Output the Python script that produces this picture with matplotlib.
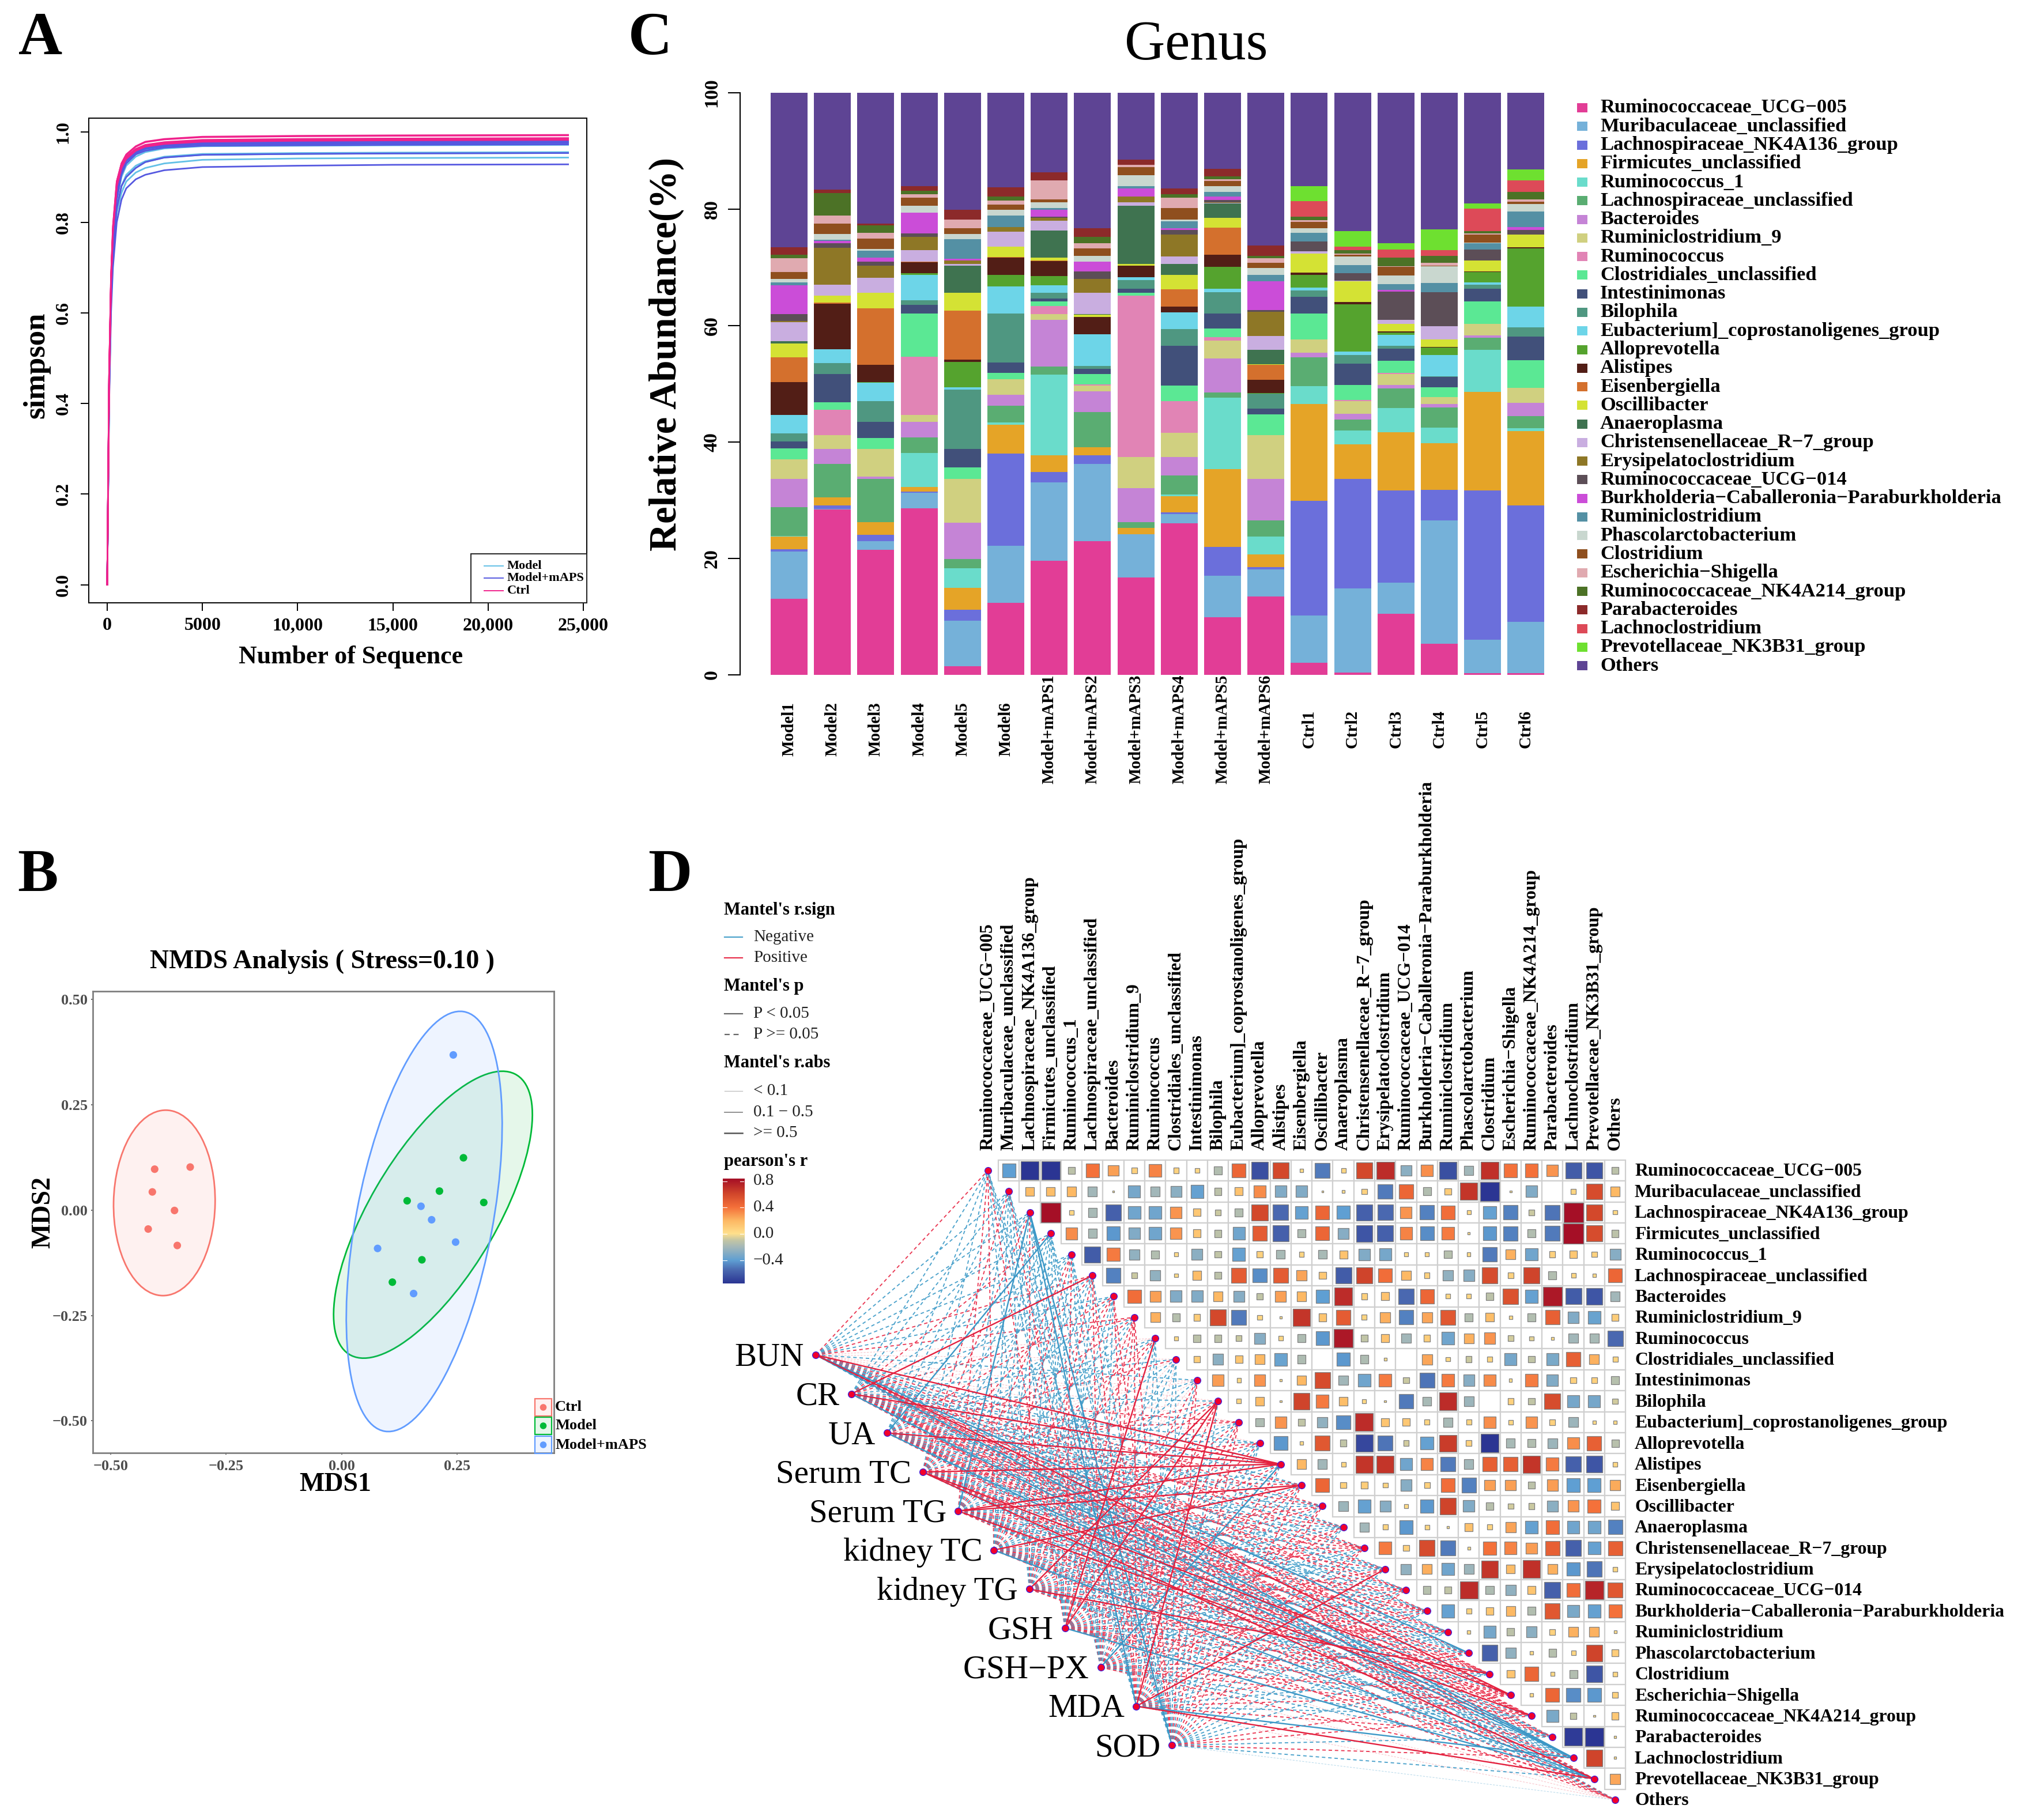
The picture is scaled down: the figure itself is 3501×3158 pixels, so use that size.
import numpy as np
import matplotlib
matplotlib.use('Agg')
import matplotlib.pyplot as plt
from matplotlib.colors import LinearSegmentedColormap, Normalize
from matplotlib.patches import Ellipse, Rectangle

plt.rcParams['font.family'] = ['Liberation Serif', 'DejaVu Serif']

W, H = 3501, 3158

#-----------------------------------------------------------------------------------------
# A: rarefaction curves

depths = [0, 100, 200, 300, 500, 750, 1000, 1500, 2000, 3000, 5000, 10000, 15000, 24200]
model_curves = [
    [0, .44, .66, .76, .86, .91, .935, .955, .965, .972, .976, .977, .978, .979],
    [0, .44, .65, .75, .85, .905, .93, .95, .96, .968, .972, .973, .974, .975],
    [0, .43, .64, .75, .85, .90, .925, .945, .955, .963, .968, .969, .970, .971],
    [0, .42, .63, .73, .83, .88, .905, .925, .935, .945, .951, .953, .954, .955],
    [0, .42, .63, .73, .83, .88, .90, .92, .933, .943, .949, .951, .952, .953],
    [0, .41, .62, .72, .82, .865, .89, .91, .92, .93, .938, .941, .942, .943],
]
maps_curves = [
    [0, .45, .66, .77, .87, .915, .94, .958, .967, .973, .977, .978, .979, .980],
    [0, .44, .66, .76, .86, .91, .937, .955, .964, .970, .974, .975, .976, .977],
    [0, .44, .65, .76, .86, .91, .935, .953, .962, .968, .972, .973, .974, .975],
    [0, .44, .65, .75, .85, .905, .93, .95, .958, .965, .969, .970, .971, .972],
    [0, .42, .63, .73, .83, .88, .90, .92, .933, .943, .949, .951, .952, .953],
    [0, .40, .60, .70, .80, .85, .875, .895, .905, .915, .922, .925, .927, .928],
]
ctrl_curves = [
    [0, .46, .68, .79, .89, .93, .95, .968, .978, .984, .989, .991, .992, .993],
    [0, .46, .68, .79, .89, .93, .949, .967, .977, .983, .988, .990, .991, .992],
    [0, .46, .67, .78, .88, .925, .945, .962, .971, .977, .982, .984, .985, .986],
    [0, .46, .67, .78, .88, .924, .944, .961, .970, .976, .981, .983, .984, .985],
    [0, .45, .67, .78, .88, .922, .942, .959, .968, .974, .979, .981, .982, .983],
    [0, .45, .67, .78, .88, .92, .94, .958, .967, .973, .978, .980, .981, .982],
]

#-----------------------------------------------------------------------------------------
# B: NMDS points

ctrl_x = [-.405, -.328, -.410, -.362, -.419, -.356]
ctrl_y = [.097, .102, .043, -.001, -.045, -.084]
model_x = [.264, .212, .142, .308, .174, .110]
model_y = [.124, .045, .022, .018, -.118, -.171]
maps_x = [.242, .172, .195, .247, .078, .156]
maps_y = [.368, .009, -.023, -.076, -.091, -.198]

#-----------------------------------------------------------------------------------------
# C: stacked bars, each list holds the cumulative top of the first 30 taxa

taxa = ['Ruminococcaceae_UCG\u2212005', 'Muribaculaceae_unclassified', 'Lachnospiraceae_NK4A136_group',
        'Firmicutes_unclassified', 'Ruminococcus_1', 'Lachnospiraceae_unclassified', 'Bacteroides',
        'Ruminiclostridium_9', 'Ruminococcus', 'Clostridiales_unclassified', 'Intestinimonas', 'Bilophila',
        'Eubacterium]_coprostanoligenes_group', 'Alloprevotella', 'Alistipes', 'Eisenbergiella',
        'Oscillibacter', 'Anaeroplasma', 'Christensenellaceae_R\u22127_group', 'Erysipelatoclostridium',
        'Ruminococcaceae_UCG\u2212014', 'Burkholderia\u2212Caballeronia\u2212Paraburkholderia',
        'Ruminiclostridium', 'Phascolarctobacterium', 'Clostridium', 'Escherichia\u2212Shigella',
        'Ruminococcaceae_NK4A214_group', 'Parabacteroides', 'Lachnoclostridium',
        'Prevotellaceae_NK3B31_group', 'Others']
taxa_colors = ['#e23d96', '#75b1d9', '#6b6fdb', '#e5a427', '#6adccb', '#5aad72', '#c584d6', '#d0d080',
               '#e184b5', '#5be894', '#41507a', '#4f9781', '#6dd5e8', '#55a32e', '#521e16', '#d4702d',
               '#d4e234', '#3f7350', '#c9aee0', '#8e7726', '#5c4e57', '#cb4dd8', '#5490a4', '#c9d7cf',
               '#8f4f1e', '#e0aab0', '#4c7226', '#8c2a2a', '#dd4a58', '#6ee030', '#5e4494']
samples = ['Model1', 'Model2', 'Model3', 'Model4', 'Model5', 'Model6',
           'Model+mAPS1', 'Model+mAPS2', 'Model+mAPS3', 'Model+mAPS4', 'Model+mAPS5', 'Model+mAPS6',
           'Ctrl1', 'Ctrl2', 'Ctrl3', 'Ctrl4', 'Ctrl5', 'Ctrl6']

tops_model1 = [13.1, 21.2, 21.6, 23.8, 23.9, 28.8, 33.7, 37.0, 37.0, 38.9, 40.1, 41.5, 44.7, 44.7, 50.3,
               54.6, 56.9, 57.3, 60.6, 60.8, 62.0, 66.9, 67.4, 68.0, 69.2, 71.6, 72.2, 73.5, 73.5, 73.5]
tops_model2 = [28.4, 28.5, 29.1, 30.5, 30.5, 36.2, 38.8, 41.2, 45.5, 46.8, 51.7, 53.6, 55.9, 55.9, 63.8,
               64.0, 65.1, 65.1, 67.0, 73.4, 74.2, 74.6, 74.8, 75.7, 77.5, 78.9, 82.8, 83.4, 83.4, 83.4]
tops_model3 = [21.5, 23.0, 24.1, 26.2, 26.2, 33.7, 34.1, 38.8, 38.8, 40.7, 43.5, 47.0, 50.2, 50.3, 53.3,
               63.0, 65.6, 65.6, 68.2, 70.3, 71.0, 71.7, 72.9, 73.2, 75.0, 75.9, 77.2, 77.5, 77.5, 77.5]
tops_model4 = [28.6, 31.3, 31.5, 32.3, 38.1, 40.8, 43.5, 44.7, 54.7, 62.1, 63.6, 64.4, 68.7, 69.0, 70.9,
               71.0, 71.0, 71.0, 73.0, 75.2, 75.8, 79.4, 79.4, 80.6, 82.0, 82.6, 83.2, 84.0, 84.0, 84.0]
tops_model5 = [1.5, 9.3, 11.2, 15.0, 18.3, 19.9, 26.1, 33.7, 33.7, 35.6, 38.8, 49.0, 49.4, 53.8, 54.2,
               62.6, 65.6, 70.3, 70.6, 71.2, 71.2, 71.5, 74.9, 75.7, 76.7, 78.2, 78.2, 79.9, 79.9, 79.9]
tops_model6 = [12.4, 22.2, 38.0, 43.0, 43.4, 46.2, 48.1, 50.8, 50.8, 51.9, 53.7, 62.1, 66.7, 68.7, 71.7,
               71.8, 73.6, 73.6, 76.1, 76.9, 76.9, 76.9, 78.9, 79.9, 80.8, 81.5, 82.2, 83.8, 83.8, 83.8]
tops_maps1 = [19.6, 33.1, 34.9, 37.7, 51.6, 53.0, 61.0, 62.0, 63.4, 64.2, 64.7, 65.6, 66.9, 68.5, 71.1,
              71.2, 71.7, 76.3, 78.0, 78.5, 78.7, 79.9, 80.2, 81.2, 81.7, 85.0, 85.0, 86.3, 86.3, 86.3]
tops_maps2 = [23.0, 36.2, 37.7, 39.1, 39.1, 45.1, 48.7, 49.7, 49.9, 51.7, 52.6, 53.1, 58.5, 58.5, 61.5,
              61.5, 61.9, 62.0, 65.6, 68.0, 69.3, 71.0, 71.0, 72.0, 73.3, 74.2, 75.2, 76.7, 76.7, 76.7]
tops_maps3 = [16.7, 24.2, 24.2, 25.2, 25.2, 26.2, 32.1, 37.4, 65.1, 65.6, 66.3, 67.8, 68.3, 68.3, 70.3,
              70.3, 70.6, 80.6, 81.2, 82.2, 82.2, 83.6, 84.0, 85.8, 87.2, 87.6, 87.6, 88.5, 88.5, 88.5]
tops_maps4 = [26.0, 27.6, 27.9, 30.7, 31.0, 34.3, 37.4, 41.6, 47.0, 49.7, 56.5, 59.4, 62.3, 62.3, 63.3,
              66.2, 68.7, 70.6, 71.9, 75.6, 76.4, 76.7, 77.9, 78.2, 80.2, 82.0, 82.6, 83.6, 83.6, 83.6]
tops_maps5 = [9.9, 17.0, 22.0, 35.3, 47.6, 48.5, 54.4, 57.4, 58.0, 59.5, 62.1, 65.7, 66.3, 70.1, 72.2,
              76.8, 78.5, 81.0, 81.1, 81.2, 81.6, 82.2, 83.0, 84.0, 84.9, 85.1, 85.6, 86.9, 86.9, 86.9]
tops_maps6 = [13.5, 18.1, 18.5, 20.7, 23.8, 26.5, 33.7, 41.2, 41.2, 44.8, 45.7, 48.3, 48.3, 48.4, 50.7,
              53.3, 53.4, 55.8, 58.2, 62.4, 62.7, 67.6, 68.7, 69.9, 70.8, 71.6, 72.0, 73.8, 73.8, 73.8]
tops_ctrl1 = [2.1, 10.2, 29.9, 46.5, 49.6, 54.6, 55.3, 57.6, 57.6, 62.1, 65.0, 66.0, 66.5, 68.7, 69.1,
              69.1, 72.4, 72.4, 72.8, 72.8, 74.5, 74.5, 75.9, 76.7, 77.8, 78.1, 78.7, 78.7, 81.4, 84.0]
tops_ctrl2 = [0.4, 14.9, 33.7, 39.6, 42.0, 43.9, 44.9, 47.0, 47.2, 49.8, 53.5, 55.0, 55.5, 63.7, 64.1,
              64.1, 67.6, 67.6, 67.7, 67.7, 69.0, 69.0, 70.4, 71.9, 72.2, 72.4, 73.0, 73.0, 73.6, 76.2]
tops_ctrl3 = [10.5, 15.8, 31.7, 41.7, 45.8, 49.2, 49.8, 51.7, 51.9, 54.0, 56.0, 56.5, 58.4, 58.8, 59.0,
              59.0, 60.3, 60.3, 61.0, 61.0, 65.8, 66.1, 67.1, 68.6, 70.1, 70.2, 71.7, 71.7, 73.1, 74.2]
tops_ctrl4 = [5.3, 26.5, 31.8, 39.8, 42.5, 45.9, 46.5, 47.7, 47.7, 49.4, 51.2, 51.3, 55.0, 56.2, 56.3,
              56.3, 57.6, 57.6, 59.9, 59.9, 65.7, 65.7, 67.3, 70.2, 70.3, 70.8, 72.0, 72.0, 73.0, 76.5]
tops_ctrl5 = [0.3, 6.0, 31.7, 48.6, 55.8, 57.9, 58.3, 60.3, 60.3, 64.2, 66.3, 67.0, 67.4, 69.2, 69.3,
              69.3, 71.2, 71.2, 71.2, 71.2, 73.1, 73.1, 74.2, 74.3, 75.6, 75.8, 76.2, 76.2, 80.1, 81.0]
tops_ctrl6 = [0.3, 9.1, 29.1, 41.9, 42.4, 44.5, 46.7, 49.3, 49.3, 54.1, 58.1, 59.7, 63.3, 73.3, 73.5,
              73.5, 75.6, 75.6, 75.6, 75.6, 76.4, 76.9, 79.6, 80.9, 81.3, 81.7, 83.0, 83.0, 85.0, 86.8]
sample_tops = [tops_model1, tops_model2, tops_model3, tops_model4, tops_model5, tops_model6,
               tops_maps1, tops_maps2, tops_maps3, tops_maps4, tops_maps5, tops_maps6,
               tops_ctrl1, tops_ctrl2, tops_ctrl3, tops_ctrl4, tops_ctrl5, tops_ctrl6]

#-----------------------------------------------------------------------------------------
# D: pearson's r, upper triangle, row r holds columns r+1 .. 30

pearson_rows = [
    [-.4, -.75, -.75, -.12, .4, .27, .08, .35, .07, .05, -.15, .45, -.65, .6, .03, -.5, .05, .6, .72, -.27, .32, -.65, -.2, .7, .4, .4, .3, -.6, -.62, -.12],
    [.18, .17, .2, -.2, -.01, -.33, -.2, -.27, -.38, -.12, .15, .33, -.3, -.3, .01, .02, .07, -.5, .45, -.15, .1, .68, -.85, -.01, -.3, 0, .06, .58, .2],
    [.88, .05, -.18, -.58, -.35, -.35, .3, .12, -.08, -.15, .6, -.55, -.38, .45, -.4, -.58, -.55, .3, -.48, .42, .04, -.38, -.48, -.08, -.52, .88, .6, .04],
    [.33, -.18, -.42, -.3, -.35, .3, .14, -.12, -.35, .5, -.58, -.16, .45, -.28, -.62, -.58, .35, -.45, .38, .01, -.42, -.48, -.15, -.5, .92, .58, -.12],
    [-.6, .38, -.25, -.15, .03, -.27, -.1, -.38, .08, -.18, .06, -.18, .15, -.3, -.33, .03, .04, -.14, .03, -.5, .22, -.35, .08, .12, .07, -.28],
    [-.48, -.08, -.25, .03, .18, -.12, .5, -.45, .5, .26, .12, -.6, .62, .42, .2, .07, -.25, -.28, .58, .07, .62, -.15, .05, .03, .45],
    [.42, .27, -.3, -.3, .2, -.28, -.1, .27, .2, -.4, .72, .08, .15, -.55, .45, .05, .05, -.12, .55, -.38, .8, -.6, -.62, -.2],
    [.22, -.14, .1, .6, -.5, .05, .01, .68, .14, .5, .06, .23, -.48, .25, .52, -.15, .17, .03, -.15, .48, -.3, -.37, .1],
    [.04, -.12, -.12, -.08, -.28, .05, -.16, -.42, .8, -.1, .15, -.2, .1, -.35, .22, .3, -.07, -.04, .02, -.2, -.18, -.55],
    [.1, -.27, .13, .2, -.37, -.16, 0, -.42, -.16, .02, 0, .25, .04, -.08, .06, -.33, -.1, -.32, .48, .22, .06],
    [.28, .04, .3, .01, .2, .58, -.2, -.35, .38, -.08, -.52, .38, -.28, .33, .02, .37, -.3, .08, .08, -.14],
    [.05, .18, .01, .62, .38, .17, .04, .01, -.5, -.18, .72, -.22, 0, .08, -.1, .58, -.33, -.33, -.07],
    [-.16, .3, -.1, -.25, -.45, .72, .14, .12, .06, -.18, .06, .32, .05, .3, .08, -.22, .03, .03],
    [-.42, .03, .52, -.1, -.68, -.52, -.07, -.38, .65, .07, -.75, -.18, -.15, -.22, .32, .48, -.13],
    [.2, -.2, .05, .68, .68, -.35, .35, -.5, -.2, .48, .48, .68, .38, -.58, -.62, .05],
    [.45, .08, .1, .06, -.28, .08, .42, -.48, .27, .27, -.12, .28, -.4, -.4, .24],
    [-.22, -.38, -.28, .03, -.42, .62, -.3, -.13, -.07, -.08, -.27, .3, .4, .15],
    [-.2, .06, -.42, .05, -.01, .16, .06, .26, -.38, .42, -.35, -.35, -.48],
    [.38, .08, .58, -.5, .02, .4, .35, .28, .48, -.58, -.38, .48],
    [-.25, .23, -.35, -.22, .68, .18, .7, .22, -.42, -.52, .05],
    [-.14, -.1, .72, -.16, -.25, .14, -.58, .42, .75, .52],
    [-.38, .06, .13, .2, -.15, .52, -.32, -.38, .4],
    [.03, -.33, -.12, -.27, .07, .22, .22, .02],
    [-.58, -.25, .03, -.14, .05, .62, .1],
    [.14, .45, .04, -.15, -.62, .05],
    [.03, .45, -.45, -.42, .07],
    [-.32, -.1, .01, .12],
    [-.72, -.8, .01],
    [.62, .01],
    [.25],
]

env_names = ['BUN', 'CR', 'UA', 'Serum TC', 'Serum TG', 'kidney TC', 'kidney TG',
             'GSH', 'GSH\u2212PX', 'MDA', 'SOD']
# one letter per taxon: R/B solid pos/neg, r/b dashed pos/neg, f/g faint pos/neg
link_codes = [
    'rbbbb rbrff bfffR brbrb brbBr RrrBr b',
    'bbbrb Rbrfb fbrbR rbrbr rbbrr rrbBr r',
    'bbbBb brbbr ffrbR brbrb rbrbr rrbBb r',
    'brrbb rbrbf brfrR rbrrb brrbr RrrbR b',
    'rbBbr brbrb fbbrR Rbbrr brbbr bRrbb r',
    'rbbbr brbrf brbbb Rrbrb rrbrb rbrbB r',
    'bbrbb rbrbb fRrbr brbrb rbrbR rrbbb r',
    'rbbbr bbrRb rRbrb rbrbr brrbr rrbrB f',
    'brbbb rbrbf brrbB rbrbr rbbrb rrbbr f',
    'bbBbb rrrbb rRrbr brbrR brbrb rbrBR f',
    'bbBbb brrbb rbrbb rrbrb rbbbb rrbrb g',
]

#-----------------------------------------------------------------------------------------

def axes_px(fig, left, top, right, bottom, **kw):
    return fig.add_axes([left / W, 1 - bottom / H, (right - left) / W, (bottom - top) / H], **kw)


fig = plt.figure(figsize=(W / 100, H / 100), dpi=100, facecolor='white')

# overlay for free text and legend keys, in pixels of the picture
ov = axes_px(fig, 0, 0, W, H, zorder=10)
ov.set_xlim(0, W)
ov.set_ylim(H, 0)
ov.axis('off')
ov.patch.set_alpha(0)


def label(x, y, s, size, weight='bold', ha='center', va='center', rot=0, color='black'):
    ov.text(x, y, s, fontsize=size, fontweight=weight, ha=ha, va=va, rotation=rot, color=color,
            rotation_mode='anchor' if rot else 'default')


for x, y, s in [(32, 94, 'A'), (30, 1546, 'B'), (1090, 94, 'C'), (1124, 1546, 'D')]:
    label(x, y, s, 76, ha='left', va='baseline')

#-----------------------------------------------------------------------------------------
# panel A

ax = axes_px(fig, 154, 205, 1018, 1046)
for curves, color in [(model_curves, '#62c0e6'), (maps_curves, '#5558e0'), (ctrl_curves, '#f0228c')]:
    for c in curves:
        ax.plot(depths, c, color=color, lw=2.0, solid_joinstyle='round')
ax.set_xlim(-968, 25180)
ax.set_ylim(-0.04, 1.03)
ax.set_xticks([0, 5000, 10000, 15000, 20000, 25000])
ax.set_xticklabels(['0', '5000', '10,000', '15,000', '20,000', '25,000'], fontsize=23, fontweight='bold')
ax.set_yticks([0, .2, .4, .6, .8, 1])
ax.set_yticklabels(['0.0', '0.2', '0.4', '0.6', '0.8', '1.0'], fontsize=23, fontweight='bold',
                   rotation=90, va='center')
ax.tick_params(axis='both', length=10, width=1.4, pad=8)
ax.tick_params(axis='y', pad=11)
for s in ax.spines.values():
    s.set_linewidth(1.4)
label(63, 634, 'simpson', 38, rot=90)
label(609, 1140, 'Number of Sequence', 31.6)

ov.add_patch(Rectangle((817, 961), 201, 85, fc='white', ec='#222222', lw=1.4))
for y, s, color in [(982, 'Model', '#62c0e6'), (1003, 'Model+mAPS', '#5558e0'), (1025, 'Ctrl', '#f0228c')]:
    ov.plot([840, 873], [y, y], color=color, lw=1.4)
    label(880, y, s, 16, ha='left')

#-----------------------------------------------------------------------------------------
# panel B

ax = axes_px(fig, 161, 1720, 961, 2521)
groups = [('Ctrl', ctrl_x, ctrl_y, '#F8766D', (-.384, .017), .220, .110, -1),
          ('Model', model_x, model_y, '#00BA38', (.198, -.011), .378, .139, -27.9),
          ('Model+mAPS', maps_x, maps_y, '#619CFF', (.179, -.027), .505, .148, -9.7)]
for name, gx, gy, color, center, a, b, angle in groups:
    ax.add_patch(Ellipse(center, 2 * b, 2 * a, angle=angle, fc=color, alpha=.1, ec='none'))
    ax.add_patch(Ellipse(center, 2 * b, 2 * a, angle=angle, fc='none', ec=color, lw=2))
    ax.scatter(gx, gy, s=90, color=color, zorder=3, edgecolors='none')
ax.set_xlim(-.539, .46)
ax.set_ylim(-.576, .519)
ax.set_xticks([-.5, -.25, 0, .25])
ax.set_yticks([-.5, -.25, 0, .25, .5])
ax.set_xticklabels(['\u22120.50', '\u22120.25', '0.00', '0.25'], fontsize=19, fontweight='bold', color='#4d4d4d')
ax.set_yticklabels(['\u22120.50', '\u22120.25', '0.00', '0.25', '0.50'], fontsize=19, fontweight='bold', color='#4d4d4d')
ax.tick_params(axis='both', length=2.5, width=1.2, color='#4d4d4d', pad=4)
ax.tick_params(axis='x', pad=6)
for s in ax.spines.values():
    s.set_linewidth(2)
    s.set_color('#7f7f7f')
label(559, 1669, 'NMDS Analysis ( Stress=0.10 )', 33)
label(75, 2104, 'MDS2', 33, rot=90)
label(582, 2576, 'MDS1', 33)

for (name, _, _, color, *_), top in zip(groups, [2427, 2459, 2492]):
    ov.add_patch(Rectangle((928, top), 29, 30, fc=color, alpha=.1, ec='none'))
    ov.add_patch(Rectangle((928, top), 29, 30, fc='none', ec=color, lw=1.6))
    ov.scatter([942.5], [top + 15], s=70, color=color, edgecolors='none')
    label(963, top + 15, name, 19, ha='left')

#-----------------------------------------------------------------------------------------
# panel C

ax = axes_px(fig, 1284, 161, 2690, 1171)
tops = np.array(sample_tops)
tops = np.hstack([tops, np.full((len(samples), 1), 100.0)])
bottoms = np.hstack([np.zeros((len(samples), 1)), tops[:, :-1]])
xpos = np.arange(len(samples))
for i, color in enumerate(taxa_colors):
    ax.bar(xpos, tops[:, i] - bottoms[:, i], bottom=bottoms[:, i], width=.85, color=color, linewidth=0)
ax.set_xlim((1284 - 1369) / 75.2, (2690 - 1369) / 75.2)
ax.set_ylim(0, 100)
ax.set_xticks([])
ax.set_yticks([0, 20, 40, 60, 80, 100])
ax.set_yticklabels(['0', '20', '40', '60', '80', '100'], fontsize=24.5, fontweight='bold', rotation=90, va='center')
ax.tick_params(axis='y', length=15, width=1.5, pad=9)
for s in ['top', 'right', 'bottom']:
    ax.spines[s].set_visible(False)
ax.spines['left'].set_linewidth(1.5)
for i, s in enumerate(samples):
    ax.annotate(s, (i, 0), xytext=(0, -94 * .72), textcoords='offset points', rotation=90,
                ha='center', va='center', fontsize=21, fontweight='bold', annotation_clip=False)
label(2075, 103, 'Genus', 70, weight='normal', va='baseline')
label(1156, 614, 'Relative Abundance(%)', 48, rot=90)

for i, (s, color) in enumerate(zip(taxa, taxa_colors)):
    y = 187 + 32.27 * i
    ov.add_patch(Rectangle((2736, y - 8), 18, 16, fc=color, ec='none'))
    label(2776, y, s, 24.8, ha='left')

#-----------------------------------------------------------------------------------------
# panel D

cmap = LinearSegmentedColormap.from_list('pearson', [
    (0.00, '#2b3593'), (0.127, '#4a69b0'), (0.22, '#5f9fd3'), (0.35, '#a5b8b8'), (0.413, '#c4c6a4'),
    (0.475, '#ffe08c'), (0.60, '#fdb863'), (0.727, '#f4703a'), (0.854, '#d2472b'), (1.00, '#a50f26')])
norm = Normalize(-.75, .84)

col_px, row_px, cell_w, cell_h = 1714, 2031, 36.27, 36.4
left, top, right, bottom = 1380, 1990, 2830, 3158
ax = axes_px(fig, left, top, right, bottom)
ax.set_xlim((left - col_px) / cell_w, (right - col_px) / cell_w)
ax.set_ylim((bottom - row_px) / cell_h, (top - row_px) / cell_h)
ax.axis('off')
ax.patch.set_alpha(0)

n = len(taxa)
for r, row in enumerate(pearson_rows):
    for c, val in enumerate(row, start=r + 1):
        ax.add_patch(Rectangle((c - .5, r - .5), 1, 1, fc='white', ec='#cfcfcf', lw=1.6, zorder=1))
        side = np.sqrt(abs(val))
        ax.add_patch(Rectangle((c - side / 2, r - side / 2), side, side, fc=cmap(norm(val)),
                               ec='#808080', lw=.9, zorder=2))

env_x = np.linspace(-8.24, 8.8, len(env_names))
env_y = np.linspace(8.79, 27.4, len(env_names))
link_style = {
    'f': dict(color='#f9c6cc', lw=.8, ls=(0, (3, 2)), zorder=3),
    'g': dict(color='#bcdcec', lw=.8, ls=(0, (3, 2)), zorder=3),
    'r': dict(color='#ea3a55', lw=1.35, ls=(0, (3.2, 2.6)), zorder=4),
    'b': dict(color='#4da3cc', lw=1.35, ls=(0, (3.2, 2.6)), zorder=4),
    'R': dict(color='#e3203e', lw=1.7, ls='-', zorder=6),
    'B': dict(color='#3b97c6', lw=1.7, ls='-', zorder=5),
}
for ex, ey, codes in zip(env_x, env_y, link_codes):
    for k, code in enumerate(codes.replace(' ', '')):
        ax.plot([ex, k], [ey, k], solid_capstyle='round', **link_style[code])

ax.plot(np.arange(n), np.arange(n), ls='none', marker='o', ms=8.5, mfc='#f2002b', mec='#3a1fe0', mew=.9, zorder=8)
ax.plot(env_x, env_y, ls='none', marker='o', ms=8.5, mfc='#f2002b', mec='#3a1fe0', mew=.9, zorder=8)
for ex, ey, s in zip(env_x, env_y, env_names):
    ax.text(ex - .55, ey + .13, s, fontsize=41, ha='right', va='center', zorder=9)
for k, s in enumerate(taxa):
    ax.annotate(s, (k, -.95), rotation=90, ha='center', va='bottom', fontsize=22.9, fontweight='bold',
                annotation_clip=False)
    ov.text(2836, row_px + 2 + cell_h * k, s, fontsize=22.9, fontweight='bold', ha='left', va='center')

# legend of panel D
label(1256, 1579, "Mantel's r.sign", 22, ha='left')
label(1256, 1712, "Mantel's p", 22, ha='left')
label(1256, 1845, "Mantel's r.abs", 22, ha='left')
label(1256, 2016, "pearson's r", 22, ha='left')
keys = [(1626, 'Negative', dict(color='#4da3cc', lw=1.6)),
        (1662, 'Positive', dict(color='#e8304c', lw=1.6)),
        (1759, 'P < 0.05', dict(color='#666666', lw=1.6)),
        (1795, 'P >= 0.05', dict(color='#666666', lw=1.6, ls=(0, (4, 3)))),
        (1893, '< 0.1', dict(color='#bbbbbb', lw=.9)),
        (1930, '0.1 \u2212 0.5', dict(color='#888888', lw=1.3)),
        (1966, '>= 0.5', dict(color='#555555', lw=1.8))]
for y, s, style in keys:
    ov.plot([1257, 1288], [y, y], **style)
    label(1307, y, s, 21, weight='normal', ha='left', color='#222222')

cb = axes_px(fig, 1254, 2045, 1291, 2227)
cb.imshow(np.linspace(.84, -.75, 256).reshape(-1, 1), cmap=cmap, norm=norm, aspect='auto',
          extent=[0, 1, -.75, .84])
cb.axis('off')
for v in [.8, .4, 0, -.4]:
    cb.plot([0, .2], [v, v], color='white', lw=.8)
    cb.plot([.8, 1], [v, v], color='white', lw=.8)
    y = 2141 - v * 115
    label(1307, y, f'{v:.1f}'.replace('-', '\u2212'), 21, weight='normal', ha='left', color='#222222')

fig.savefig('out.png', dpi=100)
